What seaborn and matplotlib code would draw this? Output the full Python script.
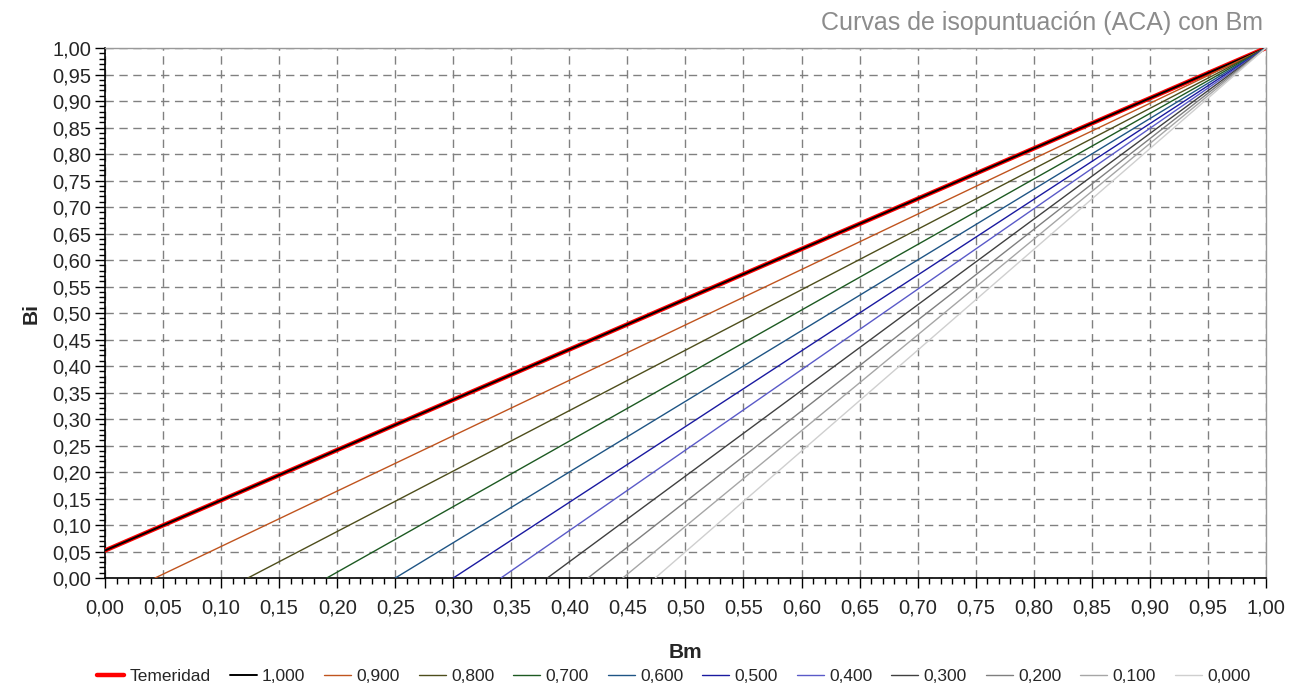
import numpy as np
import pandas as pd
import matplotlib
matplotlib.use("Agg")
import matplotlib.pyplot as plt
import seaborn as sns
from matplotlib.ticker import MultipleLocator, FuncFormatter

# curvas de isopuntuacion: cada recta va de (bm_inicio, bi_inicio) a (1, 1)
etiquetas = ["Temeridad", "1,000", "0,900", "0,800", "0,700", "0,600",
             "0,500", "0,400", "0,300", "0,200", "0,100", "0,000"]
bm_inicio = [0.0, 0.0, 0.043, 0.123, 0.191, 0.250, 0.300, 0.341, 0.381, 0.416, 0.446, 0.474]
bi_inicio = [0.052, 0.052, 0.0, 0.0, 0.0, 0.0, 0.0, 0.0, 0.0, 0.0, 0.0, 0.0]
bm_fin = [1.0] * 12
bi_fin = [1.0] * 12

colores = ["#ff0000", "#000000", "#c0541e", "#4e4e1c", "#1d5a22", "#1f5585",
           "#1a1aa0", "#5a5ac8", "#404040", "#7f7f7f", "#a6a6a6", "#cfcfcf"]
grosores = [3.2, 1.4, 1, 1, 1, 1, 1, 1, 1, 1, 1, 1]

sns.set_style("white")
plt.rcParams["font.family"] = ["Liberation Sans", "DejaVu Sans"]

fig = plt.figure(figsize=(12.89, 6.86), dpi=100)
ax = fig.add_axes([0.0815, 0.1574, 0.9005, 0.7726])

for i, nombre in enumerate(etiquetas):
    df = pd.DataFrame({"Bm": [bm_inicio[i], bm_fin[i]], "Bi": [bi_inicio[i], bi_fin[i]]})
    sns.lineplot(data=df, x="Bm", y="Bi", ax=ax, color=colores[i], linewidth=grosores[i],
                 label=nombre, zorder=3 + i * 0.01 if i else 2.9)

ax.set_xlim(0, 1)
ax.set_ylim(0, 1)
ax.xaxis.set_major_locator(MultipleLocator(0.05))
ax.yaxis.set_major_locator(MultipleLocator(0.05))
ax.xaxis.set_minor_locator(MultipleLocator(0.01))
ax.yaxis.set_minor_locator(MultipleLocator(0.01))
fmt = FuncFormatter(lambda v, p: f"{v:.2f}".replace(".", ","))
ax.xaxis.set_major_formatter(fmt)
ax.yaxis.set_major_formatter(fmt)
ax.tick_params(which="both", bottom=True, left=True, top=False, right=False)
ax.tick_params(which="major", direction="out", length=7, width=1, labelsize=14.5, color="black")
ax.tick_params(which="minor", direction="out", length=4, width=1, color="black")
ax.tick_params(axis="x", which="major", pad=8)
ax.tick_params(axis="y", which="major", pad=3)

ax.grid(True, which="major", color="#808080", linestyle=(0, (6, 4)), linewidth=1)
for s in ["left", "bottom"]:
    ax.spines[s].set_color("black")
    ax.spines[s].set_linewidth(1.2)
for s in ["top", "right"]:
    ax.spines[s].set_color("#999999")
    ax.spines[s].set_linewidth(1)

ax.set_xlabel("Bm", fontsize=15, fontweight="bold", labelpad=18)
ax.set_ylabel("Bi", fontsize=15, fontweight="bold", labelpad=8)

fig.text(0.98, 0.966, "Curvas de isopuntuación (ACA) con Bm", ha="right", va="center",
         fontsize=18, color="#8c8c8c")

ax.legend(loc="upper center", bbox_to_anchor=(0.49, -0.142), ncol=12, frameon=False,
          fontsize=12.5, handlelength=1.55, handletextpad=0.3, columnspacing=1.1)

fig.savefig("out.png", dpi=100)
